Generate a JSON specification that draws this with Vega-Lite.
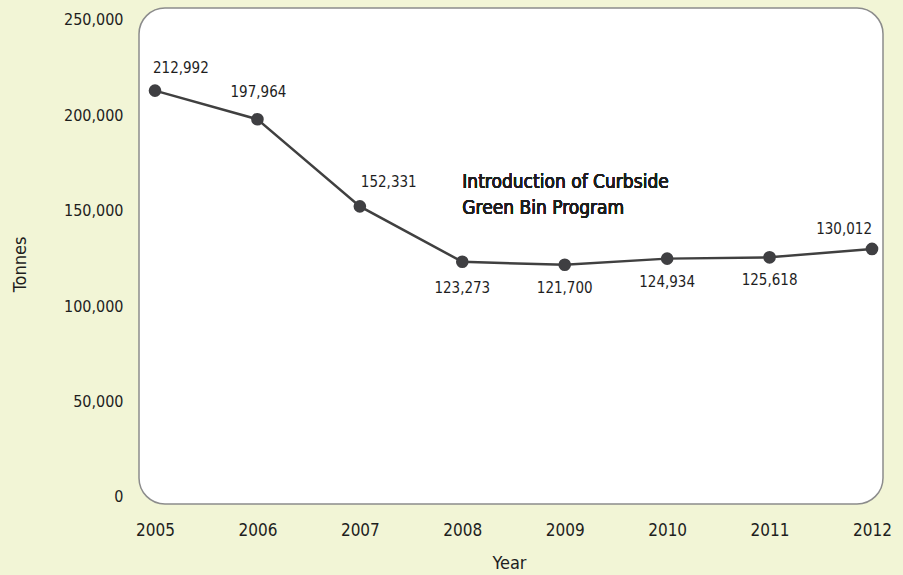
{
  "$schema": "https://vega.github.io/schema/vega-lite/v6.json",
  "autosize": {"type": "none"},
  "width": 744,
  "height": 496,
  "padding": {"left": 139, "top": 8, "right": 20, "bottom": 71},
  "background": "#f2f5d6",
  "config": {
    "font": "DejaVu Sans Condensed, sans-serif",
    "view": {"fill": "white", "stroke": "#8c8c8c", "strokeWidth": 1.5, "cornerRadius": 26},
    "text": {"font": "DejaVu Sans Condensed, sans-serif", "color": "#1e1e1e"}
  },
  "data": {
    "values": [
      {"year": 2005, "tonnes": 212992},
      {"year": 2006, "tonnes": 197964},
      {"year": 2007, "tonnes": 152331},
      {"year": 2008, "tonnes": 123273},
      {"year": 2009, "tonnes": 121700},
      {"year": 2010, "tonnes": 124934},
      {"year": 2011, "tonnes": 125618},
      {"year": 2012, "tonnes": 130012}
    ]
  },
  "encoding": {
    "x": {
      "field": "year", "type": "quantitative",
      "scale": {"domain": [2004.8438, 2012.1074], "nice": false, "zero": false},
      "axis": {
        "values": [2005, 2006, 2007, 2008, 2009, 2010, 2011, 2012],
        "format": "d", "grid": false, "ticks": false, "domain": false,
        "labelFontSize": 17, "labelColor": "#1e1e1e", "labelPadding": 18,
        "labelFont": "DejaVu Sans Condensed, sans-serif",
        "title": "Year", "titleFontSize": 18, "titleFontWeight": "normal", "titleColor": "#1e1e1e",
        "titleFont": "DejaVu Sans Condensed, sans-serif",
        "titleX": 370, "titleY": 59, "titleBaseline": "middle", "titleAlign": "center"
      }
    },
    "y": {
      "field": "tonnes", "type": "quantitative",
      "scale": {"domain": [-3669, 256289], "nice": false, "zero": false},
      "axis": {
        "values": [0, 50000, 100000, 150000, 200000, 250000],
        "format": ",d", "grid": false, "ticks": false, "domain": false,
        "labelFontSize": 16, "labelColor": "#1e1e1e", "labelPadding": 16,
        "labelFont": "DejaVu Sans Condensed, sans-serif",
        "title": "Tonnes", "titleFontSize": 18, "titleFontWeight": "normal", "titleColor": "#1e1e1e",
        "titleFont": "DejaVu Sans Condensed, sans-serif",
        "titleX": -119, "titleY": 256, "titleBaseline": "middle", "titleAlign": "center", "titleAngle": -90
      }
    }
  },
  "layer": [
    {"mark": {"type": "line", "color": "#404040", "strokeWidth": 2.5}},
    {"mark": {"type": "circle", "color": "#3f3f42", "opacity": 1, "size": 160}},
    {
      "transform": [{"filter": "datum.year == 2005"}],
      "mark": {"type": "text", "align": "left", "baseline": "middle", "dx": -2, "dy": -23, "fontSize": 15},
      "encoding": {"text": {"field": "tonnes", "type": "quantitative", "format": ",d"}}
    },
    {
      "transform": [{"filter": "datum.year == 2006"}],
      "mark": {"type": "text", "align": "center", "baseline": "middle", "dx": 1, "dy": -27, "fontSize": 15},
      "encoding": {"text": {"field": "tonnes", "type": "quantitative", "format": ",d"}}
    },
    {
      "transform": [{"filter": "datum.year == 2007"}],
      "mark": {"type": "text", "align": "left", "baseline": "middle", "dx": 1, "dy": -24, "fontSize": 15},
      "encoding": {"text": {"field": "tonnes", "type": "quantitative", "format": ",d"}}
    },
    {
      "transform": [{"filter": "datum.year == 2008"}],
      "mark": {"type": "text", "align": "center", "baseline": "middle", "dy": 26, "fontSize": 15},
      "encoding": {"text": {"field": "tonnes", "type": "quantitative", "format": ",d"}}
    },
    {
      "transform": [{"filter": "datum.year >= 2009 && datum.year <= 2011"}],
      "mark": {"type": "text", "align": "center", "baseline": "middle", "dy": 23, "fontSize": 15},
      "encoding": {"text": {"field": "tonnes", "type": "quantitative", "format": ",d"}}
    },
    {
      "transform": [{"filter": "datum.year == 2012"}],
      "mark": {"type": "text", "align": "right", "baseline": "middle", "dx": 0, "dy": -20, "fontSize": 15},
      "encoding": {"text": {"field": "tonnes", "type": "quantitative", "format": ",d"}}
    },
    {
      "mark": {"type": "text", "align": "left", "baseline": "alphabetic", "fontSize": 19, "lineHeight": 26,
               "text": ["Introduction of Curbside", "Green Bin Program"]},
      "encoding": {"x": {"datum": 2008.0}, "y": {"datum": 161950}}
    }
  ]
}
